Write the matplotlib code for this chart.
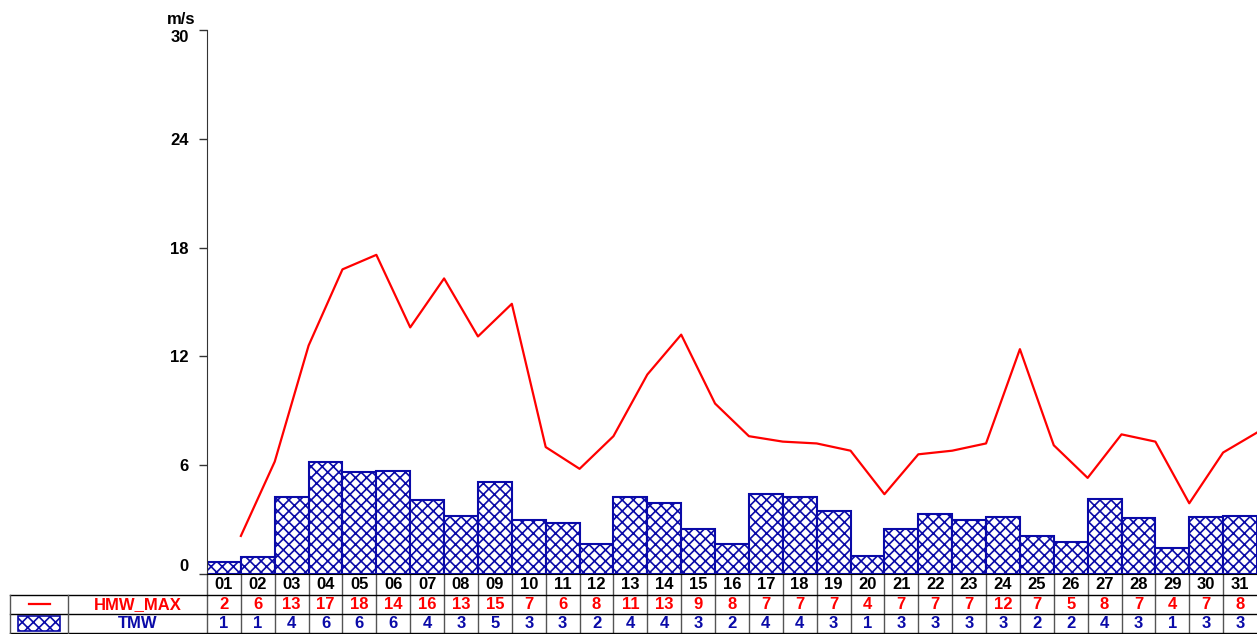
import numpy as np
import matplotlib
matplotlib.use("Agg")
import matplotlib.pyplot as plt
from matplotlib.transforms import blended_transform_factory
from matplotlib.patches import Rectangle

plt.rcParams['font.family'] = ['Liberation Sans', 'DejaVu Sans']
plt.rcParams['font.weight'] = 'bold'
plt.rcParams['hatch.linewidth'] = 1.2

# data
days = ["%02d" % d for d in range(1, 32)]
hmw_max = [2.1, 6.2, 12.6, 16.8, 17.6, 13.6, 16.3, 13.1, 14.9, 7.0, 5.8, 7.6, 11.0, 13.2, 9.4, 7.6,
           7.3, 7.2, 6.8, 4.4, 6.6, 6.8, 7.2, 12.4, 7.1, 5.3, 7.7, 7.3, 3.9, 6.7, 7.8]
tmw = [0.66, 0.94, 4.25, 6.2, 5.6, 5.7, 4.1, 3.2, 5.1, 3.0, 2.8, 1.65, 4.25, 3.9, 2.5, 1.65,
       4.4, 4.25, 3.45, 1.0, 2.5, 3.3, 3.0, 3.15, 2.1, 1.75, 4.15, 3.1, 1.45, 3.15, 3.2]
yticks = [0, 6, 12, 18, 24, 30]

red = '#ff0000'
blue = '#0a0aa8'

fig = plt.figure(figsize=(12.57, 6.34), dpi=100)
ax = fig.add_axes([207/1257, 1 - 574/634, 1050/1257, 544/634])

x = np.arange(len(days))
ax.bar(x, tmw, width=1.0, align='edge', facecolor='white', edgecolor=blue,
       hatch='xxx', linewidth=1.5, zorder=2)
ax.plot(x + 1, hmw_max, color=red, linewidth=1.6, zorder=3, clip_on=True)

ax.set_xlim(0, len(days))
ax.set_ylim(0, 30)
ax.set_xticks([])
ax.set_yticks(yticks)
ax.set_yticklabels([str(t) for t in yticks], fontsize=12, fontweight='bold')
ax.tick_params(axis='y', length=6, width=1, pad=7, color='#333333')
for lab, t in zip(ax.get_yticklabels(), yticks):
    if t == 30:
        lab.set_va('top')
    elif t == 0:
        lab.set_va('bottom')
for s in ['top', 'right']:
    ax.spines[s].set_visible(False)
ax.spines['left'].set_color('#333333')
ax.spines['bottom'].set_color('black')
ax.text(-0.011, 1.005, "m/s", transform=ax.transAxes, ha='right', va='bottom',
        fontsize=12, fontweight='bold')

# table under the chart
tr = blended_transform_factory(ax.transData, ax.transAxes)
tra = ax.transAxes
row_lines = [0.0, -0.0386, -0.0735, -0.1085]
row_mid = [(row_lines[i] + row_lines[i + 1]) / 2 for i in range(3)]
x_left = (10 - 207) / 1050
x_mid = (68 - 207) / 1050

hmw_lab = np.floor(np.array(hmw_max) + 0.5).astype(int)
tmw_lab = np.floor(np.array(tmw) + 0.5).astype(int)
for i, d in enumerate(days):
    ax.text(i + 0.5, row_mid[0], d, transform=tr, ha='center', va='center',
            fontsize=12, fontweight='bold', color='black', clip_on=False)
    ax.text(i + 0.5, row_mid[1], str(hmw_lab[i]), transform=tr, ha='center', va='center',
            fontsize=12, fontweight='bold', color=red, clip_on=False)
    ax.text(i + 0.5, row_mid[2], str(tmw_lab[i]), transform=tr, ha='center', va='center',
            fontsize=12, fontweight='bold', color=blue, clip_on=False)
    ax.plot([i, i], [row_lines[0], row_lines[3]], transform=tr, color='#555555',
            linewidth=1, clip_on=False)

# horizontal grid lines of the table
for yl in row_lines[1:]:
    ax.plot([x_left, 1], [yl, yl], transform=tra, color='black', linewidth=1, clip_on=False)
for xl in [x_left, x_mid]:
    ax.plot([xl, xl], [row_lines[1], row_lines[3]], transform=tra, color='#555555',
            linewidth=1, clip_on=False)

# row names and legend keys
ax.text((x_mid + 0) / 2, row_mid[1], "HMW_MAX", transform=tra, ha='center', va='center',
        fontsize=12, fontweight='bold', color=red, clip_on=False)
ax.text((x_mid + 0) / 2, row_mid[2], "TMW", transform=tra, ha='center', va='center',
        fontsize=12, fontweight='bold', color=blue, clip_on=False)
kx = (x_left + x_mid) / 2
ax.plot([kx - 0.010, kx + 0.010], [row_mid[1], row_mid[1]], transform=tra, color=red,
        linewidth=1.6, clip_on=False)
ax.add_patch(Rectangle((kx - 0.020, row_lines[3] + 0.004), 0.040, 0.027, transform=tra,
                       facecolor='white', edgecolor=blue, hatch='xxx', linewidth=1.2,
                       clip_on=False))

fig.savefig("out.png", dpi=100)
